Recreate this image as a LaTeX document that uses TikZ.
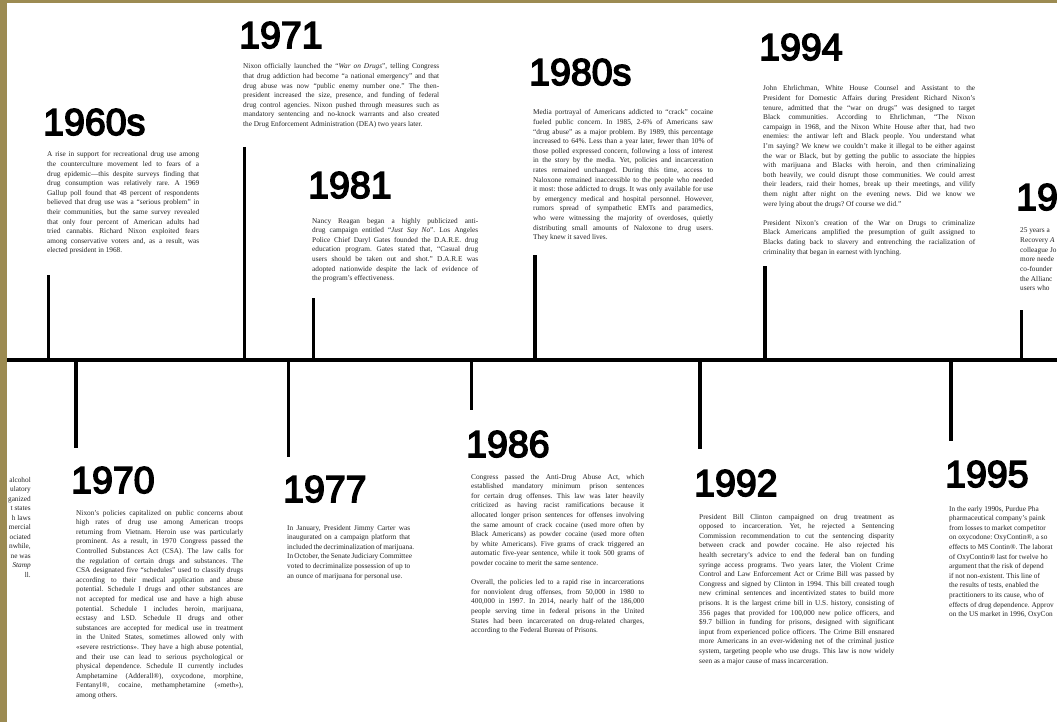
\documentclass[tikz,border=0pt]{standalone}
\usepackage{fontspec}
\setmainfont{Liberation Serif}
\newfontfamily\headfont[FakeBold=4]{Liberation Sans}
\definecolor{olivebar}{RGB}{156,139,82}
\definecolor{bodygray}{RGB}{35,35,35}
\newcommand\bodyfont{\fontsize{7.3}{9.6}\selectfont\frenchspacing}
\newcommand\jline[1]{\hbox to\hsize{#1}}
\newcommand\eline[1]{\hbox{#1}}
\newcommand\pgap{\vskip 9.6pt}
\tikzset{
  yr/.style={anchor=base west, inner sep=0pt, xshift=-4pt, text=black, font=\headfont\fontsize{37.5}{37.5}\selectfont},
  body/.style={anchor=base west, inner sep=0pt, text=bodygray},
  tickline/.style={line width=3.4pt, black},
  axisline/.style={line width=4pt, black},
}
\begin{document}
\begin{tikzpicture}[x=1pt,y=-1pt]
\fill[white] (0,0) rectangle (1057,722);
\useasboundingbox (0,0) rectangle (1057,722);

% cut-off text of the previous panel
\node[body, anchor=base east] (frag) at (31,482) {\parbox[t]{40pt}{\fontsize{7.3}{9.5}\selectfont\raggedleft
alcohol\\ulatory\\ganized\\t states\\h laws\\mercial\\ociated\\nwhile,\\ne was\\\textit{Stamp}\\ll.}};

% frame strips
\fill[olivebar] (0,0) rectangle (1057,3);
\fill[olivebar] (0,0) rectangle (7,722);

% timeline
\coordinate (axL) at (7,360);
\coordinate (axR) at (1057,360);
\draw[axisline] (axL) -- (axR);

% ---------------- upper entries ----------------
% 1960s
\node[yr] (h60) at (47,135) {1960s};
\node[body] (b60) at (47,157) {\parbox[t]{152pt}{\bodyfont
\jline{A rise in support for recreational drug use among}
\jline{the counterculture movement led to fears of a}
\jline{drug epidemic—this despite surveys finding that}
\jline{drug consumption was relatively rare. A 1969}
\jline{Gallup poll found that 48 percent of respondents}
\jline{believed that drug use was a “serious problem” in}
\jline{their communities, but the same survey revealed}
\jline{that only four percent of American adults had}
\jline{tried cannabis. Richard Nixon exploited fears}
\jline{among conservative voters and, as a result, was}
\eline{elected president in 1968.}}};
\coordinate (t60a) at (48.5,275); \coordinate (t60b) at (48.5,360);
\draw[tickline] (t60a) -- (t60b);

% 1971
\node[yr] (h71) at (243,48) {1971};
\node[body] (b71) at (243,69) {\parbox[t]{196pt}{\bodyfont
\jline{Nixon officially launched the “\textit{War on Drugs}”, telling Congress}
\jline{that drug addiction had become “a national emergency” and that}
\jline{drug abuse was now “public enemy number one.” The then-}
\jline{president increased the size, presence, and funding of federal}
\jline{drug control agencies. Nixon pushed through measures such as}
\jline{mandatory sentencing and no-knock warrants and also created}
\eline{the Drug Enforcement Administration (DEA) two years later.}}};
\coordinate (t71a) at (244.5,147); \coordinate (t71b) at (244.5,360);
\draw[tickline] (t71a) -- (t71b);

% 1981
\node[yr] (h81) at (312,198) {1981};
\node[body] (b81) at (312,223) {\parbox[t]{166pt}{\bodyfont
\jline{Nancy Reagan began a highly publicized anti-}
\jline{drug campaign entitled “\textit{Just Say No}”. Los Angeles}
\jline{Police Chief Daryl Gates founded the D.A.R.E. drug}
\jline{education program. Gates stated that, “Casual drug}
\jline{users should be taken out and shot.” D.A.R.E was}
\jline{adopted nationwide despite the lack of evidence of}
\eline{the program’s effectiveness.}}};
\coordinate (t81a) at (313.5,298); \coordinate (t81b) at (313.5,360);
\draw[tickline] (t81a) -- (t81b);

% 1980s
\node[yr] (h80) at (533,85) {1980s};
\node[body] (b80) at (533,115) {\parbox[t]{180pt}{\bodyfont
\jline{Media portrayal of Americans addicted to “crack” cocaine}
\jline{fueled public concern. In 1985, 2-6\% of Americans saw}
\jline{“drug abuse” as a major problem. By 1989, this percentage}
\jline{increased to 64\%. Less than a year later, fewer than 10\% of}
\jline{those polled expressed concern, following a loss of interest}
\jline{in the story by the media. Yet, policies and incarceration}
\jline{rates remained unchanged. During this time, access to}
\jline{Naloxone remained inaccessible to the people who needed}
\jline{it most: those addicted to drugs. It was only available for use}
\jline{by emergency medical and hospital personnel. However,}
\jline{rumors spread of sympathetic EMTs and paramedics,}
\jline{who were witnessing the majority of overdoses, quietly}
\jline{distributing small amounts of Naloxone to drug users.}
\eline{They knew it saved lives.}}};
\coordinate (t80a) at (535,255); \coordinate (t80b) at (535,360);
\draw[tickline] (t80a) -- (t80b);

% 1994
\node[yr] (h94) at (763,60) {1994};
\node[body] (b94) at (763,91) {\parbox[t]{212pt}{\bodyfont
\jline{John Ehrlichman, White House Counsel and Assistant to the}
\jline{President for Domestic Affairs during President Richard Nixon’s}
\jline{tenure, admitted that the “war on drugs” was designed to target}
\jline{Black communities. According to Ehrlichman, “The Nixon}
\jline{campaign in 1968, and the Nixon White House after that, had two}
\jline{enemies: the antiwar left and Black people. You understand what}
\jline{I’m saying? We knew we couldn’t make it illegal to be either against}
\jline{the war or Black, but by getting the public to associate the hippies}
\jline{with marijuana and Blacks with heroin, and then criminalizing}
\jline{both heavily, we could disrupt those communities. We could arrest}
\jline{their leaders, raid their homes, break up their meetings, and vilify}
\jline{them night after night on the evening news. Did we know we}
\eline{were lying about the drugs? Of course we did.”}
\pgap
\jline{President Nixon’s creation of the War on Drugs to criminalize}
\jline{Black Americans amplified the presumption of guilt assigned to}
\jline{Blacks dating back to slavery and entrenching the racialization of}
\eline{criminality that began in earnest with lynching.}}};
\coordinate (t94a) at (765,266); \coordinate (t94b) at (765,360);
\draw[tickline] (t94a) -- (t94b);

% 19.. (cut at the right edge)
\node[yr] (h96) at (1020,210) {19};
\node[body] (b96) at (1020,233) {\parbox[t]{60pt}{\bodyfont
\eline{25 years a}
\eline{Recovery \textit{A}}
\eline{colleague Jo}
\eline{more neede}
\eline{co-founder}
\eline{the Allianc}
\eline{users who}}};
\coordinate (t96a) at (1021.5,310); \coordinate (t96b) at (1021.5,360);
\draw[tickline] (t96a) -- (t96b);

% ---------------- lower entries ----------------
% 1970
\coordinate (t70a) at (76,360); \coordinate (t70b) at (76,448);
\draw[tickline] (t70a) -- (t70b);
\node[yr] (h70) at (75,493) {1970};
\node[body] (b70) at (76,515) {\parbox[t]{167pt}{\bodyfont
\jline{Nixon’s policies capitalized on public concerns about}
\jline{high rates of drug use among American troops}
\jline{returning from Vietnam. Heroin use was particularly}
\jline{prominent. As a result, in 1970 Congress passed the}
\jline{Controlled Substances Act (CSA). The law calls for}
\jline{the regulation of certain drugs and substances. The}
\jline{CSA designated five “schedules” used to classify drugs}
\jline{according to their medical application and abuse}
\jline{potential. Schedule I drugs and other substances are}
\jline{not accepted for medical use and have a high abuse}
\jline{potential. Schedule I includes heroin, marijuana,}
\jline{ecstasy and LSD. Schedule II drugs and other}
\jline{substances are accepted for medical use in treatment}
\jline{in the United States, sometimes allowed only with}
\jline{«severe restrictions». They have a high abuse potential,}
\jline{and their use can lead to serious psychological or}
\jline{physical dependence. Schedule II currently includes}
\jline{Amphetamine (Adderall®), oxycodone, morphine,}
\jline{Fentanyl®, cocaine, methamphetamine («meth»),}
\eline{among others.}}};

% 1977
\coordinate (t77a) at (288.5,360); \coordinate (t77b) at (288.5,457);
\draw[tickline] (t77a) -- (t77b);
\node[yr] (h77) at (287,502) {1977};
\node[body] (b77) at (287,530) {\parbox[t]{123pt}{\bodyfont
\jline{In January, President Jimmy Carter was}
\jline{inaugurated on a campaign platform that}
\jline{included the decriminalization of marijuana.}
\jline{In October, the Senate Judiciary Committee}
\jline{voted to decriminalize possession of up to}
\eline{an ounce of marijuana for personal use.}}};

% 1986
\coordinate (t86a) at (471.5,360); \coordinate (t86b) at (471.5,410);
\draw[tickline] (t86a) -- (t86b);
\node[yr] (h86) at (470,457) {1986};
\node[body] (b86) at (471,479) {\parbox[t]{173pt}{\bodyfont
\jline{Congress passed the Anti-Drug Abuse Act, which}
\jline{established mandatory minimum prison sentences}
\jline{for certain drug offenses. This law was later heavily}
\jline{criticized as having racist ramifications because it}
\jline{allocated longer prison sentences for offenses involving}
\jline{the same amount of crack cocaine (used more often by}
\jline{Black Americans) as powder cocaine (used more often}
\jline{by white Americans). Five grams of crack triggered an}
\jline{automatic five-year sentence, while it took 500 grams of}
\eline{powder cocaine to merit the same sentence.}
\pgap
\jline{Overall, the policies led to a rapid rise in incarcerations}
\jline{for nonviolent drug offenses, from 50,000 in 1980 to}
\jline{400,000 in 1997. In 2014, nearly half of the 186,000}
\jline{people serving time in federal prisons in the United}
\jline{States had been incarcerated on drug-related charges,}
\eline{according to the Federal Bureau of Prisons.}}};

% 1992
\coordinate (t92a) at (700,360); \coordinate (t92b) at (700,449);
\draw[tickline] (t92a) -- (t92b);
\node[yr] (h92) at (698,496) {1992};
\node[body] (b92) at (699,519) {\parbox[t]{195pt}{\bodyfont
\jline{President Bill Clinton campaigned on drug treatment as}
\jline{opposed to incarceration. Yet, he rejected a Sentencing}
\jline{Commission recommendation to cut the sentencing disparity}
\jline{between crack and powder cocaine. He also rejected his}
\jline{health secretary’s advice to end the federal ban on funding}
\jline{syringe access programs. Two years later, the Violent Crime}
\jline{Control and Law Enforcement Act or Crime Bill was passed by}
\jline{Congress and signed by Clinton in 1994. This bill created tough}
\jline{new criminal sentences and incentivized states to build more}
\jline{prisons. It is the largest crime bill in U.S. history, consisting of}
\jline{356 pages that provided for 100,000 new police officers, and}
\jline{\$9.7 billion in funding for prisons, designed with significant}
\jline{input from experienced police officers. The Crime Bill ensnared}
\jline{more Americans in an ever-widening net of the criminal justice}
\jline{system, targeting people who use drugs. This law is now widely}
\eline{seen as a major cause of mass incarceration.}}};

% 1995 (cut at the right edge)
\coordinate (t95a) at (951,360); \coordinate (t95b) at (951,441);
\draw[tickline] (t95a) -- (t95b);
\node[yr] (h95) at (949,487) {1995};
\node[body] (b95) at (949,511) {\parbox[t]{130pt}{\bodyfont
\eline{In the early 1990s, Purdue Pha}
\eline{pharmaceutical company’s paink}
\eline{from losses to market competitor}
\eline{on oxycodone: OxyContin®, a so}
\eline{effects to MS Contin®. The laborat}
\eline{of OxyContin® last for twelve ho}
\eline{argument that the risk of depend}
\eline{if not non-existent. This line of}
\eline{the results of tests, enabled the}
\eline{practitioners to its cause, who of}
\eline{effects of drug dependence. Approv}
\eline{on the US market in 1996, OxyCon}}};
\end{tikzpicture}
\end{document}
